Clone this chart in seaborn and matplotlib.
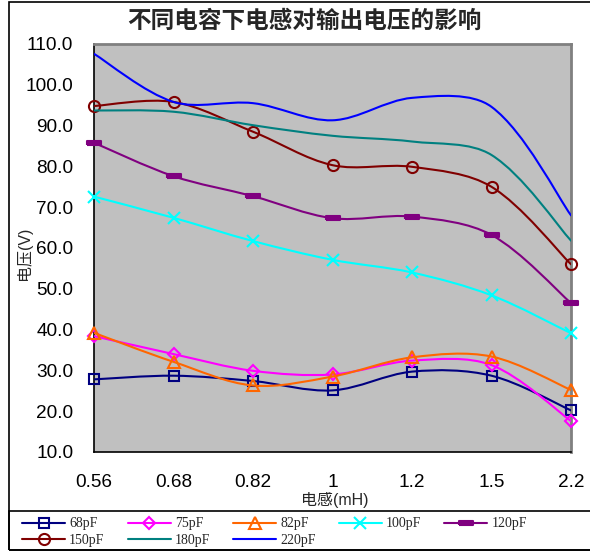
import numpy as np
import matplotlib
matplotlib.use("Agg")
import matplotlib.pyplot as plt
import seaborn as sns
from matplotlib.path import Path
from matplotlib.patches import PathPatch, Rectangle
from matplotlib.lines import Line2D

# Inductance categories (mH)
inductance = ["0.56", "0.68", "0.82", "1", "1.2", "1.5", "2.2"]

# Output voltage (V) for each capacitance
v_68pF = [27.8, 28.7, 27.4, 25.1, 29.7, 28.7, 20.2]
v_75pF = [38.4, 34.0, 29.9, 29.0, 32.4, 31.3, 17.6]
v_82pF = [39.2, 32.1, 26.3, 28.5, 33.2, 33.4, 25.2]
v_100pF = [72.6, 67.4, 61.7, 57.1, 54.0, 48.4, 39.1]
v_120pF = [85.8, 77.6, 72.7, 67.3, 67.7, 63.2, 46.5]
v_150pF = [94.8, 95.8, 88.5, 80.3, 79.9, 75.0, 56.0]
v_180pF = [93.7, 93.4, 90.1, 87.5, 86.1, 82.8, 61.8]
v_220pF = [107.6, 95.8, 95.5, 91.3, 96.8, 94.6, 68.0]

series_names = ["68pF", "75pF", "82pF", "100pF", "120pF", "150pF", "180pF", "220pF"]
series_values = [v_68pF, v_75pF, v_82pF, v_100pF, v_120pF, v_150pF, v_180pF, v_220pF]

bar_marker = [(-1, -0.32), (1, -0.32), (1, 0.32), (-1, 0.32), (-1, -0.32)]
styles = {
    "68pF":  dict(color="#000080", marker="s", ms=7.0, fill=False),
    "75pF":  dict(color="#FF00FF", marker="D", ms=6.5, fill=False),
    "82pF":  dict(color="#FF6600", marker="^", ms=8.5, fill=False),
    "100pF": dict(color="#00FFFF", marker="x", ms=8.0, fill=False),
    "120pF": dict(color="#800080", marker=bar_marker, ms=9.5, fill=True),
    "150pF": dict(color="#800000", marker="o", ms=8.0, fill=False),
    "180pF": dict(color="#008080", marker=None, ms=0, fill=False),
    "220pF": dict(color="#0000FF", marker=None, ms=0, fill=False),
}

sns.set_style("white")
plt.rcParams["font.family"] = ["Liberation Sans", "Noto Sans CJK SC", "DejaVu Sans"]

W, H = 590, 551
fig = plt.figure(figsize=(W / 100, H / 100), dpi=100)
fig.patch.set_facecolor("white")

def fx(px):
    return px / W

def fy(py):
    return 1 - py / H

left, right, top, bottom = 94, 571, 44, 452
ax = fig.add_axes([fx(left), fy(bottom), fx(right - left), (bottom - top) / H])
ax.set_facecolor("#C0C0C0")

n_cat = len(inductance)
ymin, ymax = 10, 110
# screen scale (pixels per data unit) used to weight the curve tangents
sx = (right - left) / (n_cat - 1)
sy = (bottom - top) / (ymax - ymin)


def smooth_path(xs, ys, tension=1 / 3):
    """Cubic Bezier path through the points with distance-weighted tangents."""
    pts = np.column_stack([xs, ys]).astype(float)
    scr = pts * np.array([sx, sy])
    n = len(pts)
    c_out = [None] * n
    c_in = [None] * n
    for i in range(n):
        a = pts[i - 1] if i > 0 else pts[i]
        b = pts[i + 1] if i < n - 1 else pts[i]
        sa = scr[i - 1] if i > 0 else scr[i]
        sb = scr[i + 1] if i < n - 1 else scr[i]
        d0 = np.hypot(*(scr[i] - sa))
        d1 = np.hypot(*(sb - scr[i]))
        tot = d0 + d1 if d0 + d1 > 0 else 1.0
        if i == 0 or i == n - 1:
            d0 = d1 = tot / 2
        tangent = b - a
        c_out[i] = pts[i] + tangent * tension * d1 / tot
        c_in[i] = pts[i] - tangent * tension * d0 / tot
    verts = [pts[0]]
    codes = [Path.MOVETO]
    for i in range(n - 1):
        verts += [c_out[i], c_in[i + 1], pts[i + 1]]
        codes += [Path.CURVE4] * 3
    return Path(verts, codes)


xpos = np.arange(n_cat)
handles = {}
for k, (name, vals) in enumerate(zip(series_names, series_values)):
    st = styles[name]
    c = st["color"]
    patch = PathPatch(smooth_path(xpos, vals), fill=False, edgecolor=c,
                      lw=1.5, zorder=3 + 2 * k, capstyle="round", joinstyle="round")
    ax.add_patch(patch)
    if st["marker"] is not None:
        sns.lineplot(x=xpos, y=vals, ax=ax, color=c, marker=st["marker"],
                     markersize=st["ms"],
                     markerfacecolor=(c if st["fill"] else "none"),
                     markeredgecolor=c, markeredgewidth=1.5,
                     linewidth=0, legend=False, zorder=4 + 2 * k, clip_on=False)
    handles[name] = Line2D([0], [0], color=c, lw=1.5, marker=st["marker"],
                           markersize=st["ms"],
                           markerfacecolor=(c if st["fill"] else "none"),
                           markeredgecolor=c, markeredgewidth=1.5)

ax.set_xlim(0, n_cat - 1)
ax.set_ylim(ymin, ymax)
ax.set_xticks(xpos)
ax.set_xticklabels(inductance)
yt = np.arange(10, 111, 10)
ax.set_yticks(yt)
ax.set_yticklabels([f"{v:.1f}" for v in yt])
ax.tick_params(axis="both", direction="in", length=5, width=1, color="black",
               labelsize=13.7, labelcolor="black")
ax.tick_params(axis="x", pad=15.5)
ax.tick_params(axis="y", pad=15)
ax.set_xlabel("")
ax.set_ylabel("")
ax.grid(False)

for side in ["left", "bottom"]:
    ax.spines[side].set_color("black")
    ax.spines[side].set_linewidth(1.2)
for side in ["top", "right"]:
    ax.spines[side].set_color("#808080")
    ax.spines[side].set_linewidth(2.0)
    ax.spines[side].set_visible(True)

# Title and axis titles
fig.text(fx(304), fy(21), "不同电容下电感对输出电压的影响", ha="center", va="center",
         fontsize=17, fontweight="bold", family=["Noto Sans CJK SC", "DejaVu Sans"])
fig.text(fx(334.5), fy(500), "电感(mH)", ha="center", va="center", fontsize=11.5,
         family=["Liberation Sans", "Noto Sans CJK SC"])
fig.text(fx(24), fy(253), "电压(V)", ha="center", va="center", fontsize=11.5,
         rotation=90, family=["Liberation Sans", "Noto Sans CJK SC"])

# Chart border and legend box
fig.patches.append(Rectangle((fx(9), fy(549.5)), fx(600 - 9), (549.5 - 1.5) / H,
                             transform=fig.transFigure, fill=False,
                             edgecolor="black", lw=1.2, zorder=0))
fig.patches.append(Rectangle((fx(9), fy(549.5)), fx(600 - 9), (549.5 - 511) / H,
                             transform=fig.transFigure, fill=False,
                             edgecolor="black", lw=1.2, zorder=0))

# legend entries laid out row by row (matplotlib fills columns first)
legend_order = ["68pF", "150pF", "75pF", "180pF", "82pF", "220pF", "100pF", "120pF"]
fig.legend([handles[nm] for nm in legend_order], legend_order, ncol=5,
           loc="center left", bbox_to_anchor=(fx(22), fy(532)), frameon=False,
           prop=dict(family=["Liberation Serif", "DejaVu Serif"], size=10),
           handlelength=3.1, handletextpad=0.3, columnspacing=1.65,
           labelspacing=0.22, borderpad=0, borderaxespad=0)

fig.savefig("out.png", dpi=100)
